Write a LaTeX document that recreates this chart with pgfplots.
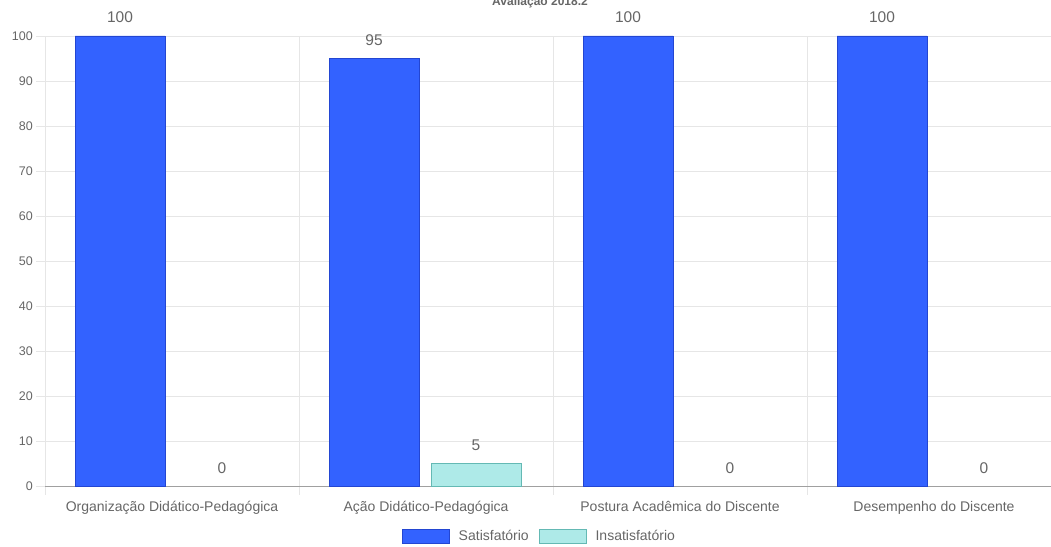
\documentclass[border=0pt]{standalone}
\usepackage{fontspec}
\setmainfont{Liberation Sans}
\usepackage{pgfplots}
\pgfplotsset{compat=1.18}
\definecolor{txt}{RGB}{102,102,102}
\definecolor{gridc}{RGB}{230,230,230}
\definecolor{axc}{RGB}{160,160,160}
\definecolor{bluef}{RGB}{51,98,255}
\definecolor{blueb}{RGB}{35,70,210}
\definecolor{cyanf}{RGB}{174,234,232}
\definecolor{cyanb}{RGB}{100,185,180}
\begin{document}
\begin{tikzpicture}[x=1pt,y=1pt]
\useasboundingbox (0,0) rectangle (1051,546);
\node[font=\bfseries\fontsize{12}{14}\selectfont, text=txt, anchor=base, inner sep=0pt] at (540,540) {Avaliação 2018.2};
\begin{axis}[
  at={(45pt,60pt)}, anchor=south west,
  scale only axis, width=1006pt, height=450pt,
  xmin=-0.5, xmax=3.4606, ymin=0, ymax=100,
  clip=false,
  ybar, bar width=0.3543,
  axis x line=bottom, axis y line=left,
  axis line style={-},
  x axis line style={draw=axc},
  y axis line style={draw=gridc},
  xtick={0,1,2,3},
  xticklabels={Organização Didático-Pedagógica, Ação Didático-Pedagógica, Postura Acadêmica do Discente, Desempenho do Discente},
  minor xtick={-0.5,0.5,1.5,2.5},
  xminorgrids=true,
  ytick={0,10,...,100},
  ymajorgrids=true,
  grid style={draw=gridc, line width=0.8pt},
  minor grid style={draw=gridc, line width=0.8pt},
  tick align=outside,
  major tick length=9pt,
  minor tick length=9pt,
  tick style={draw=gridc, line width=0.8pt},
  every major x tick/.append style={draw=none},
  /pgf/number format/assume math mode=true,
  yticklabel style={font=\fontsize{12.5}{14}\selectfont, text=txt, inner sep=0pt, xshift=-3pt},
  xticklabel style={font=\fontsize{14}{16}\selectfont, text=txt, inner sep=0pt, yshift=-6pt},
  nodes near coords,
  every node near coord/.append style={font=\fontsize{15.5}{18}\selectfont, text=txt, anchor=base, inner sep=0pt, yshift=13pt},
  legend style={at={(0.4915,-0.111)}, anchor=center, draw=none, fill=none, legend columns=2,
    font=\fontsize{14}{16}\selectfont, text=txt, inner sep=0pt,
    /tikz/every odd column/.append style={column sep=7pt},
    /tikz/every even column/.append style={column sep=8pt}},
  legend image code/.code={\draw[#1] (0pt,-7pt) rectangle (47pt,7pt);},
]
\addplot[bar shift=-0.2047, fill=bluef, draw=blueb, line width=0.8pt]
  coordinates {(0,100) (1,95) (2,100) (3,100)};
\addlegendentry{Satisfatório}
\addplot[bar shift=0.1969, fill=cyanf, draw=cyanb, line width=0.8pt]
  coordinates {(1,5)};
\addlegendentry{Insatisfatório}
\addplot[bar shift=0.1969, draw=none, fill=none, forget plot]
  coordinates {(0,0) (2,0) (3,0)};
\end{axis}
\end{tikzpicture}
\end{document}
